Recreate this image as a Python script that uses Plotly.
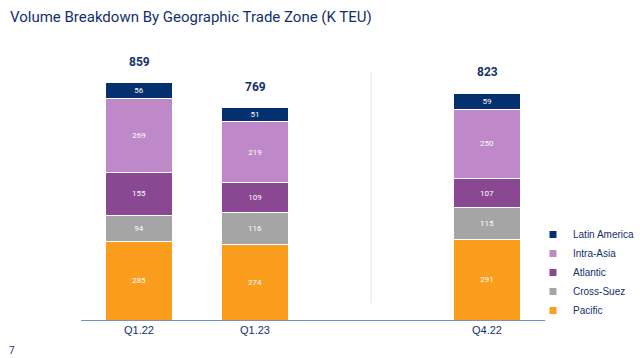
import plotly.graph_objects as go

categories = ["Q1.22", "Q1.23", "Q4.22"]
positions = [0, 1, 3]
pacific = [285, 274, 291]
cross_suez = [94, 116, 115]
atlantic = [155, 109, 107]
intra_asia = [269, 219, 250]
latin_america = [56, 51, 59]
totals = [859, 769, 823]

series = [
    ("Pacific", pacific, "#fb9d1d"),
    ("Cross-Suez", cross_suez, "#a5a5a5"),
    ("Atlantic", atlantic, "#8a4792"),
    ("Intra-Asia", intra_asia, "#bf88c8"),
    ("Latin America", latin_america, "#05306f"),
]

navy = "#13306e"
fig = go.Figure()
for name, vals, col in series:
    fig.add_trace(go.Bar(
        x=positions, y=vals, name=name, legendgroup=name, showlegend=False,
        marker=dict(color=col, line=dict(color="white", width=1)),
        width=0.57,
        text=[str(v) for v in vals], textposition="inside",
        insidetextanchor="middle",
        textfont=dict(color="white", size=8, family="Roboto"),
        hoverinfo="skip",
    ))
for name, vals, col in series:
    fig.add_trace(go.Scatter(
        x=[None], y=[None], mode="markers", name=name, legendgroup=name,
        marker=dict(symbol="square", size=7, color=col), showlegend=True,
    ))

for p, t in zip(positions, totals):
    fig.add_annotation(x=p, y=t, text="<b>%d</b>" % t, showarrow=False,
                       yanchor="bottom", yshift=12,
                       font=dict(size=12, color=navy, family="Roboto"))

fig.add_shape(type="line", x0=2, x1=2, y0=62, y1=899, xref="x", yref="y",
              line=dict(color="#e3e3e3", width=1))

fig.update_layout(
    width=640, height=358,
    margin=dict(l=81, r=95, t=50, b=38, autoexpand=False),
    barmode="stack",
    plot_bgcolor="white", paper_bgcolor="white",
    showlegend=True,
    legend=dict(traceorder="reversed", xref="container", yref="container",
                x=533 / 640, xanchor="left", y=1 - 220 / 358, yanchor="top",
                font=dict(size=10, color=navy, family="Liberation Sans"),
                tracegroupgap=0, itemwidth=30, bgcolor="rgba(0,0,0,0)"),
    xaxis=dict(range=[-0.5, 3.5], tickmode="array", tickvals=positions, ticktext=categories,
               showgrid=False, zeroline=False, showline=True, linecolor="#7391c8", linewidth=1,
               ticks="", automargin=False, tickfont=dict(size=11, color=navy, family="Liberation Sans")),
    yaxis=dict(range=[0, 978], visible=False, showgrid=False, zeroline=False),
    uniformtext=dict(minsize=8, mode="show"),
)

fig.add_annotation(xref="paper", yref="paper", x=-73 / 464, y=(320 - 17) / 270, xanchor="left", yanchor="middle",
                   text="Volume Breakdown By Geographic Trade Zone (K TEU)", showarrow=False,
                   font=dict(size=15, color=navy, family="Roboto"))
fig.add_annotation(xref="paper", yref="paper", x=-69 / 464, y=(320 - 350) / 270, xanchor="center", yanchor="middle",
                   text="7", showarrow=False,
                   font=dict(size=10, color=navy, family="Roboto"))

fig.write_html("out.html", config={"displayModeBar": False})
with open("out.html", encoding="utf-8") as f:
    html = f.read()
html = html.replace("<body>", '<body style="margin:0;padding:0;">', 1)
with open("out.html", "w", encoding="utf-8") as f:
    f.write(html)
